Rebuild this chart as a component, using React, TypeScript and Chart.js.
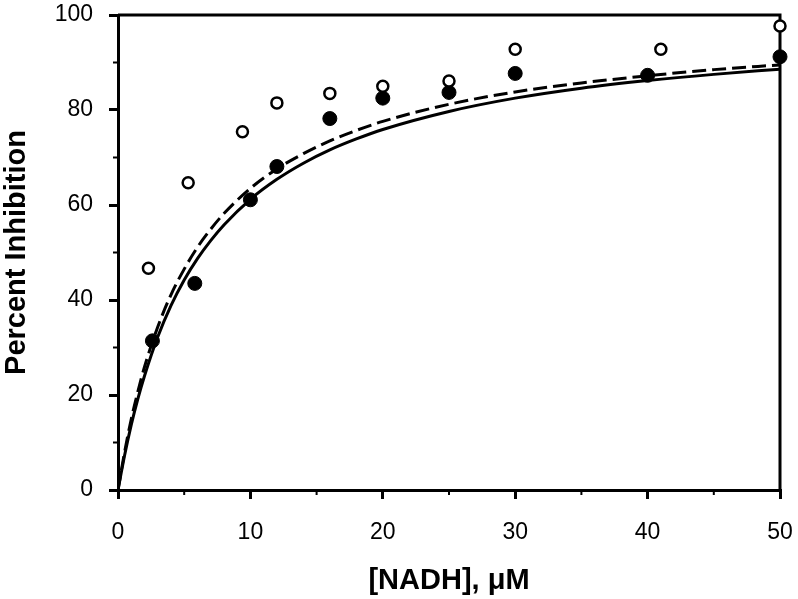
import React, { useEffect, useRef } from "react";
import { Chart, registerables } from "chart.js";

Chart.register(...registerables);

// Tick values
const xTicks = [0, 10, 20, 30, 40, 50];
const yTicks = [0, 20, 40, 60, 80, 100];
const minorX = [5, 15, 25, 35, 45];
const minorY = [10, 30, 50, 70, 90];

// Open circles
const openX = [2.3, 5.3, 9.4, 12, 16, 20, 25, 30, 41, 50];
const openY = [46.7, 64.7, 75.4, 81.5, 83.5, 85.0, 86.1, 92.8, 92.8, 97.7];

// Filled circles
const filledX = [2.6, 5.8, 10, 12, 16, 20, 25, 30, 40, 50];
const filledY = [31.4, 43.5, 61.1, 68.1, 78.2, 82.5, 83.7, 87.7, 87.3, 91.2];

// Fitted curves
const curveX = [0, 0.5, 1, 1.5, 2, 3, 4, 5, 6, 7, 8, 10, 12, 14, 16, 18, 20, 25, 30, 35, 40, 45, 50];
const solidY = [0, 7.3, 13.7, 19.2, 24.0, 32.2, 38.8, 44.2, 48.7, 52.5, 55.8, 61.2, 65.4, 68.8, 71.6, 73.9, 75.9, 79.7, 82.5, 84.6, 86.2, 87.5, 88.6];
const dashedY = [0, 8.0, 14.9, 20.7, 25.9, 34.3, 41.1, 46.5, 51.1, 54.9, 58.2, 63.5, 67.6, 70.8, 73.5, 75.7, 77.6, 81.2, 83.8, 85.7, 87.2, 88.5, 89.5];

const FONT = "'Liberation Sans', Arial, Helvetica, sans-serif";

const pts = (xs: number[], ys: number[]) => xs.map((x, i) => ({ x, y: ys[i] }));

const framePlugin = {
  id: "frame",
  beforeDatasetsDraw(chart: any) {
    const { ctx, chartArea } = chart;
    const xs = chart.scales.x;
    const ys = chart.scales.y;
    ctx.save();
    ctx.strokeStyle = "#000";
    ctx.lineWidth = 3;
    ctx.beginPath();
    ctx.moveTo(chartArea.left, chartArea.top);
    ctx.lineTo(chartArea.right, chartArea.top);
    ctx.lineTo(chartArea.right, chartArea.bottom);
    ctx.stroke();
    ctx.lineWidth = 2;
    ctx.beginPath();
    minorX.forEach((v) => {
      const px = xs.getPixelForValue(v);
      ctx.moveTo(px, chartArea.bottom);
      ctx.lineTo(px, chartArea.bottom + 5);
    });
    minorY.forEach((v) => {
      const py = ys.getPixelForValue(v);
      ctx.moveTo(chartArea.left, py);
      ctx.lineTo(chartArea.left - 5, py);
    });
    ctx.stroke();
    ctx.restore();
  },
};

export default function App() {
  const ref = useRef<HTMLCanvasElement | null>(null);

  useEffect(() => {
    if (!ref.current) return;
    const chart = new Chart(ref.current, {
      type: "scatter",
      data: {
        datasets: [
          {
            label: "open",
            data: pts(openX, openY),
            showLine: false,
            pointRadius: 5.5,
            pointBorderWidth: 2.5,
            pointBackgroundColor: "#fff",
            pointBorderColor: "#000",
            order: 0,
            clip: false,
          },
          {
            label: "filled",
            data: pts(filledX, filledY),
            showLine: false,
            pointRadius: 7,
            pointBorderWidth: 1,
            pointBackgroundColor: "#000",
            pointBorderColor: "#000",
            order: 1,
            clip: false,
          },
          {
            label: "solid fit",
            data: pts(curveX, solidY),
            showLine: true,
            pointRadius: 0,
            borderColor: "#000",
            borderWidth: 3,
            cubicInterpolationMode: "monotone",
            fill: false,
            order: 2,
          },
          {
            label: "dashed fit",
            data: pts(curveX, dashedY),
            showLine: true,
            pointRadius: 0,
            borderColor: "#000",
            borderWidth: 3,
            borderDash: [14, 6],
            cubicInterpolationMode: "monotone",
            fill: false,
            order: 3,
          },
        ],
      },
      options: {
        responsive: false,
        animation: false,
        events: [],
        layout: { padding: { top: 15, right: 18, left: 0, bottom: 0 } },
        plugins: {
          legend: { display: false },
          tooltip: { enabled: false },
        },
        scales: {
          x: {
            type: "linear",
            min: 0,
            max: 50,
            afterBuildTicks: (s: any) => {
              s.ticks = xTicks.map((v) => ({ value: v }));
            },
            afterFit: (s: any) => {
              s.height = 109;
              s.paddingLeft = 0;
              s.paddingRight = 0;
            },
            ticks: {
              color: "#000",
              font: { family: FONT, size: 23 },
              padding: 20,
              maxRotation: 0,
              autoSkip: false,
            },
            grid: {
              drawOnChartArea: false,
              drawTicks: true,
              tickLength: 9,
              lineWidth: 3,
              color: "#000",
            },
            border: { display: true, color: "#000", width: 3 },
            title: {
              display: true,
              text: "[NADH], μM",
              color: "#000",
              font: { family: FONT, size: 29, weight: "bold" },
              padding: { top: 0, bottom: 1 },
            },
          },
          y: {
            type: "linear",
            min: 0,
            max: 100,
            afterBuildTicks: (s: any) => {
              s.ticks = yTicks.map((v) => ({ value: v }));
            },
            afterFit: (s: any) => {
              s.width = 118;
              s.paddingTop = 0;
              s.paddingBottom = 0;
            },
            ticks: {
              color: "#000",
              font: { family: FONT, size: 23 },
              padding: 16,
              autoSkip: false,
            },
            grid: {
              drawOnChartArea: false,
              drawTicks: true,
              tickLength: 9,
              lineWidth: 3,
              color: "#000",
            },
            border: { display: true, color: "#000", width: 3 },
            title: {
              display: true,
              text: "Percent Inhibition",
              color: "#000",
              font: { family: FONT, size: 29, weight: "bold" },
              padding: { top: 0, bottom: 0 },
            },
          },
        },
      },
      plugins: [framePlugin],
    } as any);
    return () => chart.destroy();
  }, []);

  return (
    <div style={{ position: "fixed", left: 0, top: 0, width: 798, height: 599, background: "#fff" }}>
      <canvas ref={ref} width={798} height={599} style={{ width: 798, height: 599, display: "block" }} />
    </div>
  );
}
